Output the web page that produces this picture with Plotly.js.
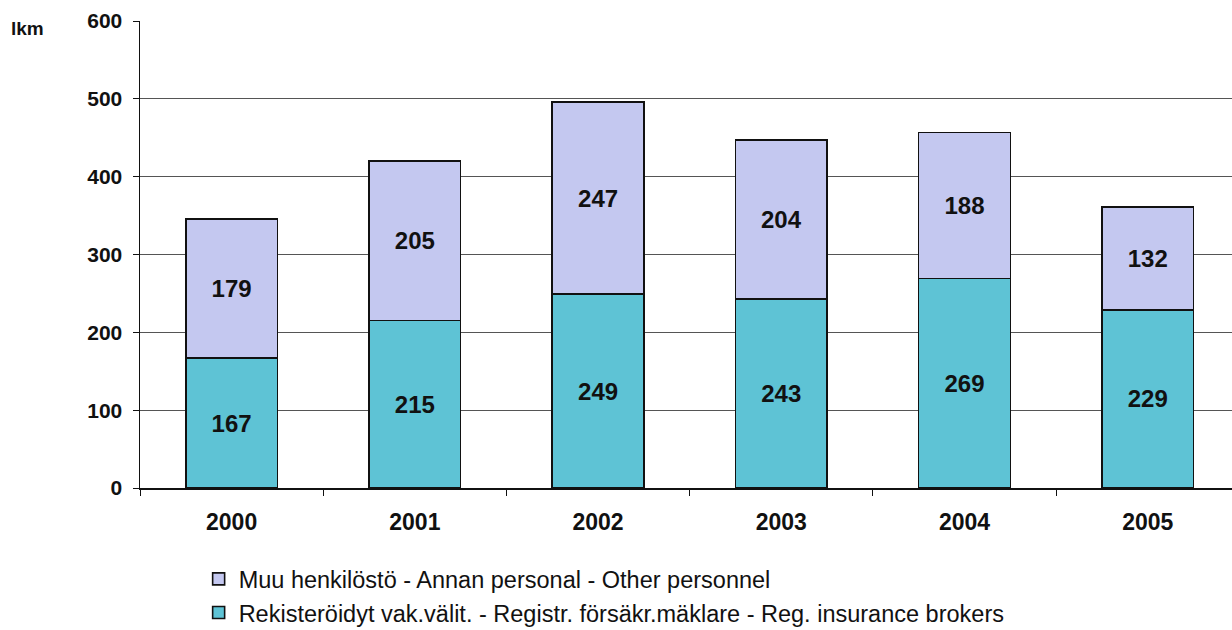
<!DOCTYPE html>
<html><head><meta charset="utf-8">
<script src="https://cdn.plot.ly/plotly-3.0.1.min.js"></script>
<style>html,body{margin:0;padding:0;background:#fff;overflow:hidden}#chart{width:1232px;height:630px}</style>
</head><body><div id="chart"></div>
<script>
const years = ["2000","2001","2002","2003","2004","2005"];
const brokers = [167, 215, 249, 243, 269, 229];
const other = [179, 205, 247, 204, 188, 132];
const nameBrokers = "Rekisteröidyt vak.välit. - Registr. försäkr.mäklare - Reg. insurance brokers";
const nameOther = "Muu henkilöstö - Annan personal - Other personnel";
const yTicks = [0, 100, 200, 300, 400, 500, 600];

const F = "Liberation Sans, Arial, sans-serif";
const common = {
  type: "bar", x: years, textposition: "inside", insidetextanchor: "middle",
  textfont: {family: F, size: 24, color: "#111", weight: "bold"},
  hoverinfo: "skip", constraintext: "none"
};
const traces = [
  Object.assign({}, common, {name: nameBrokers, y: brokers, text: brokers.map(String),
    marker: {color: "#5ec3d5", line: {color: "#111", width: 1.6}}}),
  Object.assign({}, common, {name: nameOther, y: other, text: other.map(String),
    marker: {color: "#c4c8f0", line: {color: "#111", width: 1.6}}})
];
const layout = {
  width: 1232, height: 630,
  margin: {l: 140, r: 0, t: 21, b: 142, autoexpand: false},
  paper_bgcolor: "#fff", plot_bgcolor: "#fff",
  barmode: "stack", bargap: 0.5,
  font: {family: F, color: "#111"},
  xaxis: {type: "category", range: [-0.5, 5.46], showline: true, linecolor: "#111", linewidth: 1.5,
    ticks: "outside", tickson: "boundaries", ticklen: 6, tickcolor: "#111",
    tickfont: {family: F, size: 23, weight: "bold", color: "#111"}, ticklabelstandoff: 13, showgrid: false},
  yaxis: {range: [0, 600], tickvals: yTicks, showline: true, linecolor: "#111", linewidth: 1.5,
    ticks: "outside", ticklen: 6, tickcolor: "#111", gridcolor: "#555", gridwidth: 1,
    tickfont: {family: F, size: 21, weight: "bold", color: "#111"}, ticklabelstandoff: 6, zeroline: false},
  showlegend: true,
  legend: {orientation: "v", traceorder: "reversed", x: 0.0537, xanchor: "left", y: -0.148, yanchor: "top",
    font: {family: F, size: 23.5, color: "#111"}, itemwidth: 30, tracegroupgap: 0, bgcolor: "rgba(0,0,0,0)"},
  annotations: [{text: "<b>lkm</b>", xref: "paper", yref: "paper", x: -0.12, xanchor: "left", y: 1.0, yanchor: "middle",
    yshift: -7, showarrow: false, font: {family: F, size: 19, color: "#111"}}]
};
Plotly.newPlot("chart", traces, layout, {displayModeBar: false, staticPlot: true});
</script></body></html>
